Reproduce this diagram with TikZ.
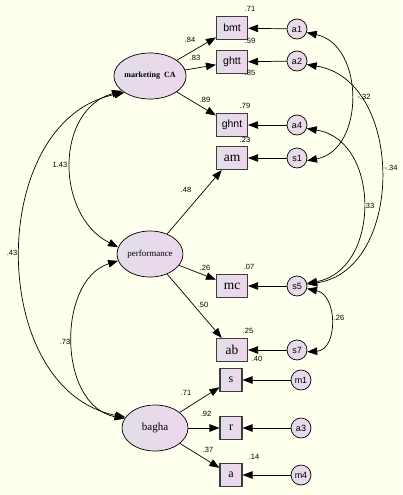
\documentclass[tikz,border=0pt]{standalone}
\usepackage{fontspec}
\setmainfont{Liberation Serif}
\newfontfamily\arialf{Liberation Sans}
\usetikzlibrary{shapes.geometric,arrows.meta}
\definecolor{bgcol}{RGB}{255,255,238}
\definecolor{boxl}{RGB}{226,222,232}
\definecolor{boxr}{RGB}{238,214,236}
\definecolor{edgecol}{RGB}{60,60,60}
\begin{document}
\begin{tikzpicture}[x=1pt,y=-1pt,
 obs/.style={draw=edgecol, line width=1.1pt, left color=boxl, right color=boxr, minimum width=31pt, minimum height=23pt, inner sep=0},
 obsn/.style={obs, minimum width=22pt},
 sanslab/.style={font=\arialf\fontsize{10.5}{12}\selectfont},
 seriflab/.style={font=\fontsize{13.5}{15}\selectfont},
 smallserif/.style={font=\fontsize{12}{14}\selectfont},
 err/.style={circle, draw, line width=0.7pt, left color=boxl, right color=boxr, minimum size=20pt, inner sep=0, font=\arialf\fontsize{9}{10}\selectfont},
 lat/.style={ellipse, draw, line width=0.7pt, left color=boxl, right color=boxr, minimum width=66pt, minimum height=46pt, inner sep=0},
 arr/.style={-{Triangle[length=10pt,width=7.5pt]}, line width=0.7pt},
 dbl/.style={{Triangle[length=10pt,width=7.5pt]}-{Triangle[length=10pt,width=7.5pt]}, line width=0.7pt},
 num/.style={font=\arialf\fontsize{7.5}{8}\selectfont, inner sep=0}
]
\useasboundingbox (0,0) rectangle (402,495);
\fill[bgcol] (0,0) rectangle (402,495);

% observed variables
\node[obs,sanslab] (bmt) at (232,28) {bmt};
\node[obs,sanslab] (ghtt) at (232,62) {ghtt};
\node[obs,sanslab] (ghnt) at (232,125) {ghnt};
\node[obs,seriflab] (am) at (232,158) {am};
\node[obs,seriflab] (mc) at (232,286) {mc};
\node[obs,seriflab] (ab) at (232,350) {ab};
\node[obsn,smallserif] (s) at (231,380) {s};
\node[obsn,smallserif] (r) at (231,428) {r};
\node[obsn,smallserif] (a) at (231,475) {a};

% error terms
\node[err] (a1) at (297,29) {a1};
\node[err] (a2) at (297,61) {a2};
\node[err] (a4) at (297,125) {a4};
\node[err] (s1) at (297,158) {s1};
\node[err] (s5) at (297,286) {s5};
\node[err] (s7) at (297,350) {s7};
\node[err] (m1) at (301,380) {m1};
\node[err] (a3) at (301,428) {a3};
\node[err] (m4) at (301,475) {m4};

% latent variables
\node[lat,font=\bfseries\fontsize{8}{9}\selectfont] (mk) at (150,76) {marketing\ \ CA};
\node[lat,font=\fontsize{9}{10}\selectfont] (perf) at (150,254) {performance};
\node[lat,font=\fontsize{11}{12}\selectfont] (bagha) at (155,428) {bagha};

% error arrows
\foreach \e/\o in {a1/bmt,a2/ghtt,a4/ghnt,s1/am,s5/mc,s7/ab,m1/s,a3/r,m4/a}
  \draw[arr] (\e) -- (\o);

% loadings
\foreach \l/\o in {mk/bmt,mk/ghtt,mk/ghnt,perf/am,perf/mc,perf/ab,bagha/s,bagha/r,bagha/a}
  \draw[arr] (\l) -- (\o);

% covariances left
\draw[dbl] (mk.208) .. controls (55,110) and (55,215) .. (perf.168);
\draw[dbl] (mk.213) .. controls (-14,120) and (-14,390) .. (bagha.160);
\draw[dbl] (perf.192) .. controls (57,280) and (57,405) .. (bagha.163);

% covariances right
\draw[dbl] (a1.-20) .. controls (365,45) and (365,150) .. (s1.-15);
\draw[dbl] (a2.-20) .. controls (405,80) and (405,270) .. (s5.10);
\draw[dbl] (a4.-20) .. controls (381,140) and (381,270) .. (s5.15);
\draw[dbl] (s5.-15) .. controls (338,295) and (338,350) .. (s7.-10);

% numbers
\node[num] at (250,9) {.71};
\node[num] at (250,41) {.59};
\node[num] at (250,73) {.85};
\node[num] at (245,106) {.79};
\node[num] at (245,140) {.23};
\node[num] at (249,267) {.07};
\node[num] at (248,331) {.25};
\node[num] at (257,359) {.40};
\node[num] at (254,457) {.14};
\node[num] at (190,40) {.84};
\node[num] at (195,58) {.83};
\node[num] at (205,100) {.89};
\node[num] at (186,190) {.48};
\node[num] at (205,268) {.26};
\node[num] at (203,305) {.50};
\node[num] at (186,393) {.71};
\node[num] at (206,414) {.92};
\node[num] at (208,450) {.37};
\node[num] at (60,165) {1.43};
\node[num] at (12,253) {.43};
\node[num] at (65,342) {.73};
\node[num] at (364,97) {-.32};
\node[num] at (391,168) {-.34};
\node[num] at (369,206) {.33};
\node[num] at (339,318) {.26};
\end{tikzpicture}
\end{document}
